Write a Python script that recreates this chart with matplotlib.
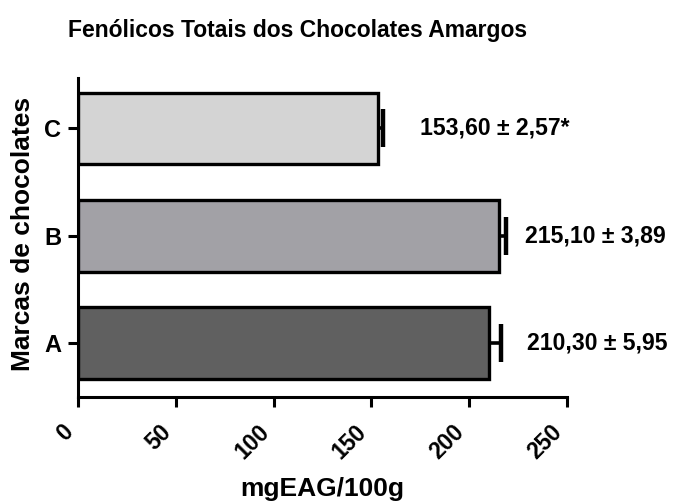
import matplotlib
matplotlib.use("Agg")
import numpy as np
import matplotlib.pyplot as plt
from matplotlib.transforms import ScaledTranslation

# data
brands = ["A", "B", "C"]
means = [210.30, 215.10, 153.60]
sems = [5.95, 3.89, 2.57]
labels = ["210,30 \u00b1 5,95", "215,10 \u00b1 3,89", "153,60 \u00b1 2,57*"]
label_x = [229.5, 228.5, 175.0]
colors = ["#606060", "#a2a1a6", "#d4d4d4"]
xticks = [0, 50, 100, 150, 200, 250]

plt.rcParams["font.family"] = ["Liberation Sans", "DejaVu Sans"]
plt.rcParams["font.weight"] = "bold"

fig = plt.figure(figsize=(6.75, 5.04), dpi=100)
ax = fig.add_axes([78 / 675, 107 / 504, (567 - 78) / 675, (397 - 78) / 504])

ypos = np.arange(len(brands))
tips = np.array(means) + np.array(sems)
ax.barh(ypos, means, height=0.67, color=colors, edgecolor="black", linewidth=2.4, zorder=2)
# one-sided error bars (upper side only)
ax.hlines(ypos, means, tips, color="black", linewidth=2.6, zorder=3)
ax.plot(tips, ypos, ls="none", marker="|", markersize=27, mew=3.2, color="black", zorder=3)

for y, lx, txt in zip(ypos, label_x, labels):
    ax.text(lx, y, txt, ha="left", va="center", fontsize=16.6, fontweight="bold", clip_on=False)

ax.set_xlim(0, 250)
ax.set_ylim(-0.5, 2.47)
ax.set_xticks(xticks)
ax.set_xticklabels([str(t) for t in xticks], rotation=45, ha="right", va="top",
                   fontsize=16.5, fontweight="bold")
shift = ScaledTranslation(4 / 100, 0, fig.dpi_scale_trans)
for lbl in ax.get_xticklabels():
    lbl.set_transform(lbl.get_transform() + shift)
ax.set_yticks(ypos)
ax.set_yticklabels(brands, fontsize=17, fontweight="bold")

for side in ["top", "right"]:
    ax.spines[side].set_visible(False)
for side in ["left", "bottom"]:
    ax.spines[side].set_linewidth(2.2)
ax.tick_params(axis="both", width=2.2, length=7, direction="out")
ax.tick_params(axis="x", pad=10)
ax.tick_params(axis="y", pad=5)

ax.set_xlabel("mgEAG/100g", fontsize=19, fontweight="bold", va="center")
ax.xaxis.set_label_coords((322 - 78) / (567 - 78), -(489 - 397) / (397 - 78))
ax.set_ylabel("Marcas de chocolates", fontsize=19, fontweight="bold", va="center")
ax.yaxis.set_label_coords(-(78 - 23) / (567 - 78), (397 - 234) / (397 - 78))
fig.text(298 / 675, 1 - 31 / 504, "Fen\u00f3licos Totais dos Chocolates Amargos",
         ha="center", va="center", fontsize=16.5, fontweight="bold")

fig.savefig("out.png", dpi=100)
